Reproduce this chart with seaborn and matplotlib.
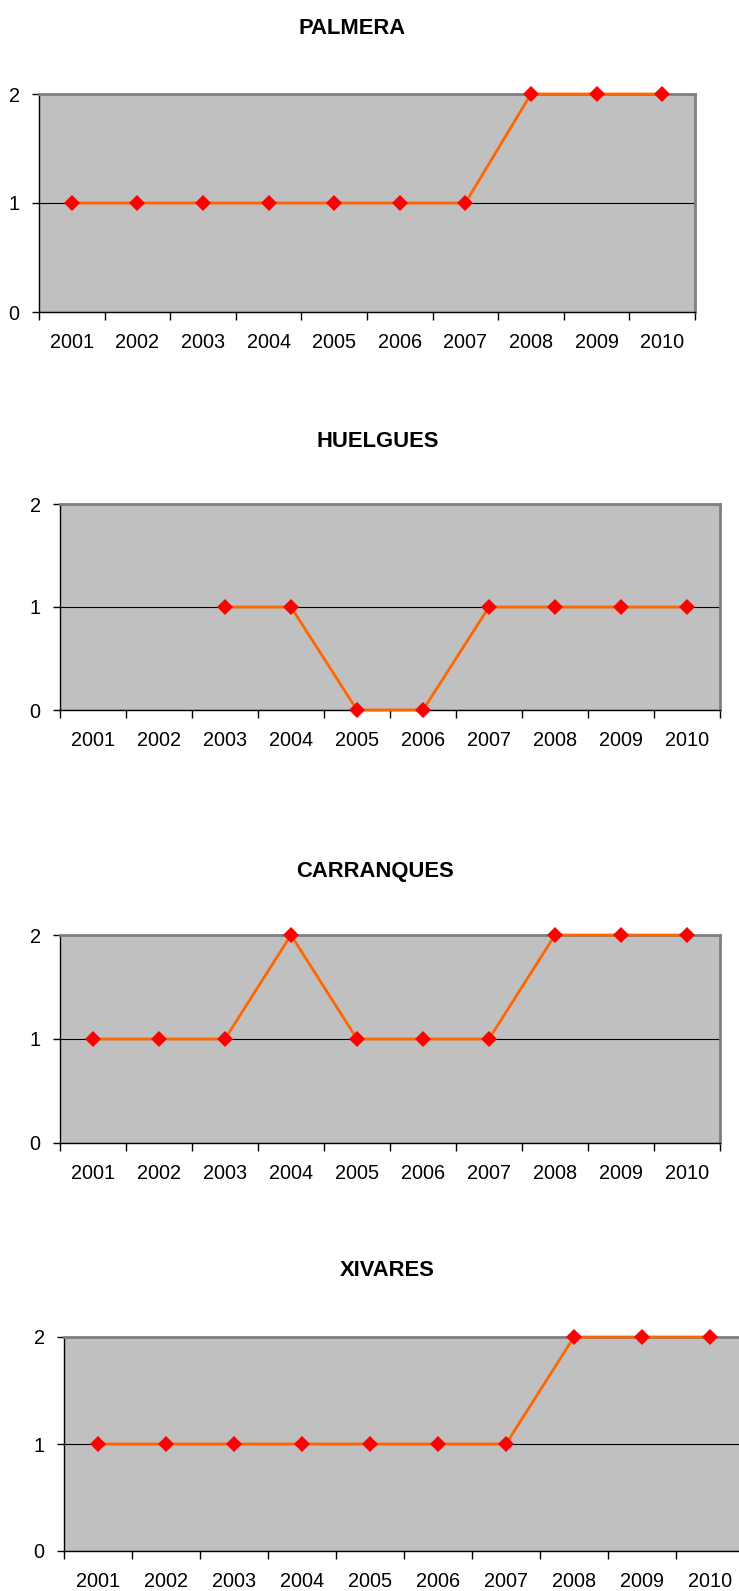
import numpy as np
import pandas as pd
import matplotlib
matplotlib.use("Agg")
import matplotlib.pyplot as plt
import seaborn as sns

# data
years = [2001, 2002, 2003, 2004, 2005, 2006, 2007, 2008, 2009, 2010]
palmera = [1, 1, 1, 1, 1, 1, 1, 2, 2, 2]
huelgues = [np.nan, np.nan, 1, 1, 0, 0, 1, 1, 1, 1]
carranques = [1, 1, 1, 2, 1, 1, 1, 2, 2, 2]
xivares = [1, 1, 1, 1, 1, 1, 1, 2, 2, 2]
titles = ["PALMERA", "HUELGUES", "CARRANQUES", "XIVARES"]
y_ticks = [0, 1, 2]

series = [palmera, huelgues, carranques, xivares]

# panel boxes in pixels: left, right, top, bottom, title x, title baseline
boxes = [
    (39, 695, 94, 312, 352, 34),
    (60, 720, 504, 710, 378, 447),
    (60, 720, 935, 1143, 375, 877),
    (64, 744, 1337, 1551, 387, 1276),
]

W, H = 739, 1591

sns.set_theme(style="ticks")
plt.rcParams["font.family"] = ["Liberation Sans", "DejaVu Sans"]

fig = plt.figure(figsize=(W / 100, H / 100), dpi=100)

for vals, title, (l, r, t, b, tx, ty) in zip(series, titles, boxes):
    ax = fig.add_axes([l / W, 1 - b / H, (r - l) / W, (b - t) / H])
    ax.set_facecolor("#C0C0C0")
    df = pd.DataFrame({"year": years, "value": vals})
    sns.lineplot(data=df, x="year", y="value", ax=ax, color="#FF6600", lw=2,
                 marker="D", markersize=8.6, markerfacecolor="#FF0000",
                 markeredgecolor="#FF0000", markeredgewidth=0,
                 clip_on=False, zorder=4)
    ax.set_xlim(years[0] - 0.5, years[-1] + 0.5)
    ax.set_ylim(y_ticks[0], y_ticks[-1])
    ax.set_xlabel("")
    ax.set_ylabel("")

    # ticks between categories, labels centred on them
    ax.set_xticks([y - 0.5 for y in years] + [years[-1] + 0.5])
    ax.set_xticklabels([])
    ax.set_xticks(years, minor=True)
    ax.set_xticklabels([str(y) for y in years], minor=True)
    ax.set_yticks(y_ticks)
    ax.tick_params(axis="x", which="major", length=6, width=1, color="black")
    ax.tick_params(axis="x", which="minor", length=0, labelsize=14.3, pad=15,
                   labelcolor="black")
    ax.tick_params(axis="y", length=5, width=1, color="black", labelsize=14.3,
                   pad=9, labelcolor="black")

    ax.yaxis.grid(True, color="black", lw=0.8)
    ax.set_axisbelow(True)

    for side in ["left", "bottom"]:
        ax.spines[side].set_color("black")
        ax.spines[side].set_linewidth(1)
    for side in ["top", "right"]:
        ax.spines[side].set_visible(True)
        ax.spines[side].set_color("#808080")
        ax.spines[side].set_linewidth(2)

    fig.text(tx / W, 1 - ty / H, title, ha="center", va="baseline",
             fontsize=15.8, fontweight="bold", color="black")

fig.savefig("out.png", dpi=100, facecolor="white")
